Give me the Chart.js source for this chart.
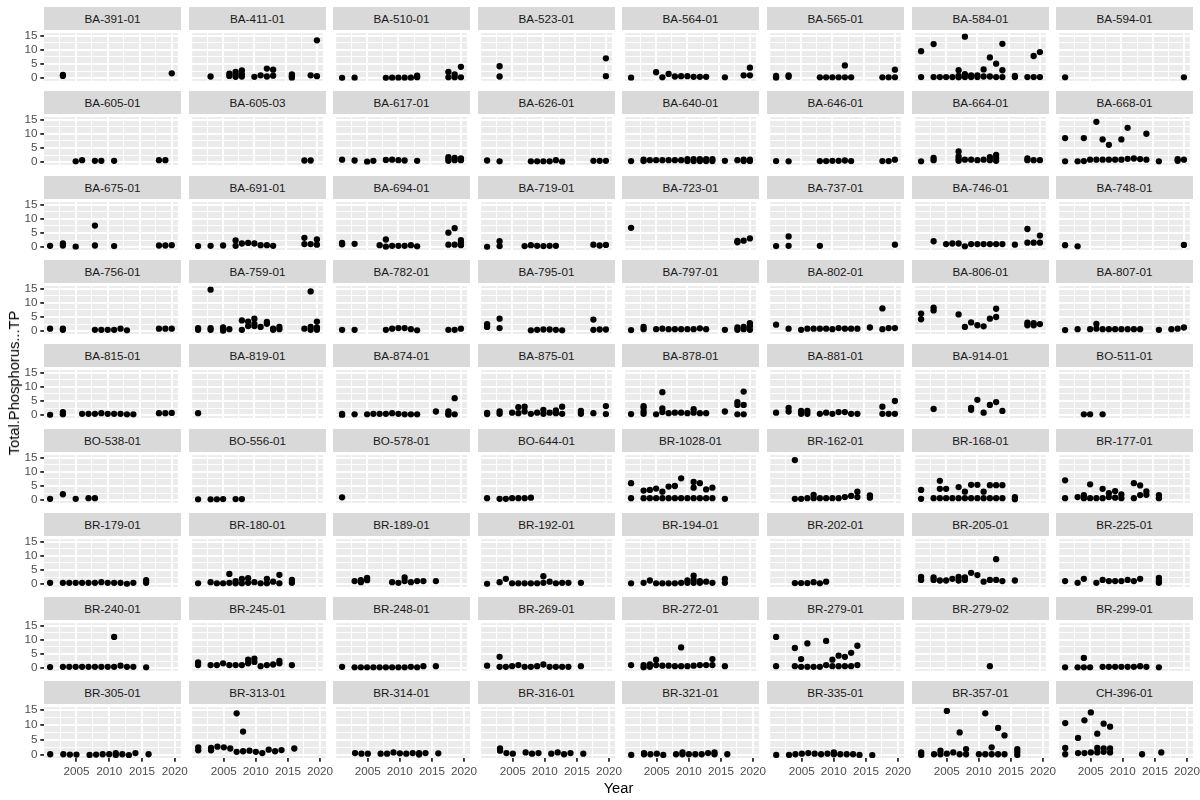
<!DOCTYPE html>
<html>
<head>
<meta charset="utf-8">
<script src="https://cdn.jsdelivr.net/npm/chart.js@4.4.0/dist/chart.umd.min.js"></script>
<style>
html,body{margin:0;padding:0;background:#fff;width:1200px;height:800px;overflow:hidden;font-family:'Liberation Sans',Arial,Helvetica,sans-serif;}
#wrap{position:relative;width:1200px;height:800px;}
#wrap canvas{position:absolute;}
.strip{position:absolute;background:#D9D9D9;color:#1A1A1A;font-size:11.7px;display:flex;align-items:center;justify-content:center;white-space:nowrap;}
.title{position:absolute;color:#000;font-size:14.7px;white-space:nowrap;}
</style>
</head>
<body>
<div id="wrap"></div>
<script>
// ---- Data: [year, Total Phosphorus TP] per site ----
const BA_391_01=[[2003,0.8],[2003,1.2],[2020,1.7]];
const BA_411_01=[[2003,0.6],[2006,1.6],[2006,0.8],[2007,2.2],[2007,1.3],[2007,0.5],[2008,2.7],[2008,1.3],[2008,0.6],[2010,0.5],[2011,1.0],[2012,3.4],[2012,0.6],[2013,3.0],[2013,0.9],[2016,1.3],[2016,0.7],[2016,0.2],[2019,1.0],[2020,13.3],[2020,0.7]];
const BA_510_01=[[2001,0.1],[2003,0.2],[2008,0.1],[2009,0.2],[2010,0.2],[2011,0.2],[2012,0.2],[2013,0.3],[2013,0.9],[2018,2.2],[2018,0.3],[2019,1.3],[2019,0.3],[2020,4.0],[2020,0.3]];
const BA_523_01=[[2003,4.2],[2003,0.6],[2020,7.0],[2020,0.7]];
const BA_564_01=[[2001,0.2],[2005,2.1],[2006,0.3],[2007,1.5],[2008,0.6],[2009,0.7],[2010,0.7],[2011,0.5],[2012,0.5],[2013,0.5],[2016,0.3],[2019,1.0],[2020,3.7],[2020,1.0]];
const BA_565_01=[[2001,0.8],[2001,0.2],[2003,1.0],[2003,0.5],[2008,0.3],[2009,0.3],[2010,0.3],[2011,0.3],[2012,4.5],[2012,0.3],[2013,0.3],[2018,0.3],[2019,0.3],[2020,3.0],[2020,0.3]];
const BA_584_01=[[2001,9.5],[2001,0.4],[2003,12.0],[2003,0.4],[2004,0.4],[2005,0.4],[2006,0.4],[2007,2.8],[2007,0.8],[2007,0.3],[2008,14.6],[2008,1.4],[2008,0.4],[2009,1.0],[2009,0.4],[2010,1.0],[2010,0.4],[2011,3.1],[2011,0.6],[2012,7.3],[2012,0.6],[2013,5.1],[2013,0.4],[2014,12.1],[2014,2.8],[2014,0.4],[2016,0.8],[2016,0.4],[2018,0.4],[2019,7.8],[2019,0.4],[2020,9.2],[2020,0.4]];
const BA_594_01=[[2001,0.3],[2020,0.3]];
const BA_605_01=[[2005,0.3],[2006,0.7],[2008,0.5],[2009,0.5],[2011,0.5],[2018,0.7],[2019,0.7]];
const BA_605_03=[[2018,0.6],[2019,0.6]];
const BA_617_01=[[2001,0.9],[2003,0.6],[2005,0.2],[2006,0.5],[2008,0.8],[2009,0.9],[2010,0.7],[2011,0.6],[2013,0.5],[2018,1.8],[2018,1.1],[2018,0.5],[2019,1.5],[2019,0.7],[2020,1.3],[2020,0.7]];
const BA_626_01=[[2001,0.6],[2003,0.3],[2008,0.3],[2009,0.3],[2010,0.3],[2011,0.3],[2012,0.7],[2013,0.2],[2018,0.5],[2019,0.5],[2020,0.5]];
const BA_640_01=[[2001,0.4],[2003,0.9],[2003,0.4],[2004,0.7],[2005,0.7],[2006,0.7],[2007,0.7],[2008,0.7],[2009,0.7],[2010,1.1],[2010,0.4],[2011,1.1],[2011,0.4],[2012,1.1],[2012,0.4],[2013,1.1],[2013,0.4],[2014,1.1],[2014,0.4],[2016,0.5],[2018,0.7],[2019,0.9],[2019,0.4],[2020,0.9],[2020,0.4]];
const BA_646_01=[[2001,0.4],[2003,0.3],[2008,0.4],[2009,0.4],[2010,0.5],[2011,0.5],[2012,0.6],[2013,0.4],[2018,0.4],[2019,0.4],[2020,0.9]];
const BA_664_01=[[2001,0.3],[2003,1.5],[2003,0.7],[2007,3.8],[2007,2.0],[2007,1.1],[2007,0.5],[2008,0.9],[2009,0.9],[2010,0.7],[2011,0.9],[2012,1.8],[2012,0.7],[2013,2.6],[2013,1.5],[2013,0.5],[2018,1.3],[2018,0.7],[2019,0.7],[2020,0.7]];
const BA_668_01=[[2001,8.5],[2001,0.3],[2003,0.3],[2004,8.5],[2004,0.4],[2005,0.9],[2006,14.2],[2006,0.9],[2007,8.0],[2007,0.9],[2008,6.1],[2008,0.9],[2009,0.9],[2010,8.0],[2010,0.9],[2011,12.1],[2011,1.2],[2012,1.3],[2013,1.1],[2014,10.0],[2014,0.9],[2016,0.3],[2019,1.1],[2019,0.5],[2020,0.9]];
const BA_675_01=[[2001,0.5],[2003,1.3],[2003,0.6],[2005,0.2],[2008,7.6],[2008,0.6],[2011,0.4],[2018,0.6],[2019,0.6],[2020,0.7]];
const BA_691_01=[[2001,0.4],[2003,0.5],[2005,0.6],[2007,2.4],[2007,0.5],[2008,1.3],[2009,1.5],[2010,1.3],[2011,0.7],[2012,0.7],[2013,0.5],[2018,3.3],[2018,1.1],[2019,1.1],[2020,2.7],[2020,0.9]];
const BA_694_01=[[2001,1.5],[2001,1.0],[2003,1.2],[2007,0.7],[2008,2.7],[2008,0.2],[2009,0.5],[2010,0.5],[2011,0.5],[2012,0.7],[2013,0.3],[2018,5.1],[2018,0.9],[2019,6.7],[2019,0.9],[2020,2.5],[2020,1.5],[2020,0.7]];
const BA_719_01=[[2001,0.1],[2003,2.1],[2003,0.4],[2007,0.4],[2008,0.7],[2009,0.5],[2010,0.4],[2011,0.5],[2012,0.5],[2018,0.9],[2019,0.6],[2020,0.8]];
const BA_723_01=[[2001,6.8],[2018,1.7],[2018,2.2],[2019,2.3],[2020,3.1]];
const BA_737_01=[[2001,0.4],[2003,3.8],[2003,0.5],[2008,0.5],[2020,0.9]];
const BA_746_01=[[2003,2.1],[2005,1.1],[2006,1.3],[2007,1.3],[2008,0.3],[2009,1.1],[2010,1.1],[2011,1.1],[2012,1.1],[2013,1.1],[2014,1.1],[2016,0.9],[2018,6.4],[2018,1.6],[2019,1.6],[2020,4.1],[2020,1.6]];
const BA_748_01=[[2001,0.7],[2003,0.3],[2020,0.8]];
const BA_756_01=[[2001,0.9],[2003,0.9],[2003,0.5],[2008,0.5],[2009,0.5],[2010,0.5],[2011,0.5],[2012,0.9],[2013,0.3],[2018,0.9],[2019,0.9],[2020,0.9]];
const BA_759_01=[[2001,1.1],[2001,0.5],[2003,14.6],[2003,1.1],[2003,0.5],[2005,1.3],[2005,0.7],[2005,0.1],[2006,0.7],[2008,3.8],[2008,0.5],[2009,3.4],[2009,1.8],[2010,4.4],[2010,2.6],[2010,1.8],[2011,1.5],[2012,3.3],[2012,2.6],[2013,0.9],[2013,0.5],[2014,1.5],[2014,0.7],[2018,0.9],[2019,14.0],[2019,1.5],[2019,0.5],[2020,3.4],[2020,1.3],[2020,0.5]];
const BA_782_01=[[2001,0.5],[2003,0.5],[2008,0.5],[2009,0.9],[2010,1.1],[2011,1.1],[2012,0.7],[2013,0.3],[2018,0.5],[2019,0.5],[2020,0.9]];
const BA_795_01=[[2001,2.5],[2001,1.5],[2003,4.4],[2003,1.1],[2008,0.3],[2009,0.5],[2010,0.6],[2011,0.6],[2012,0.5],[2013,0.3],[2018,4.1],[2018,0.5],[2019,0.6],[2020,0.6]];
const BA_797_01=[[2001,0.4],[2003,1.5],[2003,0.7],[2005,0.7],[2006,0.9],[2007,0.7],[2008,0.7],[2009,0.7],[2010,0.7],[2011,0.7],[2012,1.0],[2013,0.7],[2016,0.5],[2018,1.3],[2018,0.5],[2019,1.5],[2019,0.7],[2020,2.8],[2020,1.8],[2020,0.5]];
const BA_802_01=[[2001,2.3],[2003,0.9],[2005,0.5],[2006,0.9],[2007,0.9],[2008,0.9],[2009,0.9],[2010,0.7],[2011,1.1],[2012,0.9],[2013,0.9],[2014,0.9],[2016,1.3],[2018,8.0],[2018,0.7],[2019,1.1],[2020,1.1]];
const BA_806_01=[[2001,6.2],[2001,4.2],[2003,8.3],[2003,7.3],[2007,5.9],[2008,1.5],[2009,3.1],[2010,2.1],[2011,1.7],[2012,4.4],[2013,7.9],[2013,5.0],[2018,3.0],[2018,2.1],[2019,2.8],[2019,2.1],[2020,2.5]];
const BA_807_01=[[2001,0.4],[2003,0.7],[2005,0.7],[2006,2.6],[2006,0.9],[2007,0.7],[2008,0.7],[2009,0.7],[2010,0.7],[2011,0.7],[2012,0.7],[2013,0.7],[2016,0.5],[2018,0.7],[2019,0.9],[2020,1.3]];
const BA_815_01=[[2001,0.1],[2003,1.1],[2003,0.3],[2006,0.5],[2007,0.5],[2008,0.5],[2009,0.7],[2010,0.5],[2011,0.5],[2012,0.5],[2013,0.3],[2014,0.3],[2018,0.7],[2019,0.7],[2020,0.8]];
const BA_819_01=[[2001,0.7]];
const BA_874_01=[[2001,0.5],[2001,0.0],[2003,0.3],[2005,0.3],[2006,0.5],[2007,0.5],[2008,0.5],[2009,0.7],[2010,0.5],[2011,0.3],[2012,0.3],[2013,0.3],[2016,1.3],[2018,1.3],[2018,0.5],[2018,0.1],[2019,6.0],[2019,0.3]];
const BA_875_01=[[2001,0.8],[2001,0.4],[2003,1.3],[2003,0.5],[2005,0.9],[2006,2.8],[2006,0.7],[2007,3.0],[2007,1.3],[2008,0.5],[2009,0.9],[2010,1.9],[2010,0.5],[2011,0.9],[2012,1.7],[2012,0.7],[2013,3.0],[2013,0.5],[2016,1.5],[2016,0.5],[2018,0.7],[2020,3.2],[2020,0.4]];
const BA_878_01=[[2001,0.4],[2003,3.2],[2003,2.6],[2003,1.3],[2003,0.5],[2005,0.3],[2006,8.1],[2006,2.4],[2006,1.1],[2007,0.7],[2008,0.9],[2009,0.9],[2010,0.7],[2011,2.1],[2011,0.9],[2012,0.7],[2013,0.7],[2016,1.3],[2018,4.6],[2018,3.6],[2018,0.3],[2019,8.3],[2019,3.6],[2019,0.3]];
const BA_881_01=[[2001,0.9],[2003,2.6],[2003,1.3],[2005,1.5],[2005,0.5],[2006,1.5],[2006,0.5],[2008,0.5],[2009,0.9],[2010,0.5],[2011,1.1],[2012,1.1],[2013,0.5],[2014,0.5],[2018,3.0],[2018,0.5],[2019,0.5],[2020,5.0],[2020,0.5]];
const BA_914_01=[[2003,2.2],[2009,2.6],[2009,1.9],[2010,5.4],[2011,0.9],[2012,3.6],[2013,4.6],[2014,1.5]];
const BO_511_01=[[2004,0.3],[2005,0.3],[2007,0.3]];
const BO_538_01=[[2001,0.5],[2003,2.1],[2005,0.5],[2007,0.7],[2008,0.7]];
const BO_556_01=[[2001,0.3],[2003,0.3],[2004,0.3],[2005,0.4],[2007,0.4],[2008,0.4]];
const BO_578_01=[[2001,1.0]];
const BO_644_01=[[2001,0.7],[2003,0.5],[2004,0.5],[2005,0.7],[2006,0.7],[2007,0.7],[2008,0.9]];
const BR_1028_01=[[2001,6.0],[2001,0.7],[2003,3.4],[2003,0.7],[2004,3.6],[2004,0.7],[2005,4.1],[2005,0.7],[2006,3.0],[2006,0.7],[2007,4.8],[2007,0.7],[2008,5.0],[2008,0.7],[2009,7.7],[2009,0.7],[2010,0.7],[2011,6.4],[2011,4.4],[2011,0.7],[2012,6.0],[2012,0.7],[2013,3.8],[2013,0.7],[2014,4.4],[2014,0.7],[2016,0.5]];
const BR_162_01=[[2004,14.1],[2004,0.5],[2005,0.5],[2006,0.7],[2007,1.9],[2007,0.7],[2008,0.7],[2009,0.7],[2010,0.7],[2011,0.7],[2012,1.1],[2013,1.5],[2014,3.0],[2014,1.1],[2016,1.7],[2016,0.9]];
const BR_168_01=[[2001,3.6],[2001,0.5],[2003,0.7],[2004,6.8],[2004,4.0],[2004,0.7],[2005,4.0],[2005,0.7],[2006,0.7],[2007,4.6],[2007,0.7],[2008,3.0],[2008,0.7],[2009,5.4],[2009,0.7],[2010,5.4],[2010,0.7],[2011,3.0],[2011,0.7],[2012,5.3],[2012,0.7],[2013,5.3],[2013,0.7],[2014,5.3],[2014,0.7],[2016,1.1],[2016,0.3]];
const BR_177_01=[[2001,7.0],[2001,0.7],[2003,1.1],[2004,1.8],[2004,0.7],[2005,5.6],[2005,0.7],[2006,0.7],[2007,4.0],[2007,0.7],[2008,2.5],[2008,1.1],[2009,3.2],[2009,0.9],[2010,2.0],[2010,0.7],[2012,6.0],[2012,0.7],[2013,5.2],[2013,1.8],[2014,3.1],[2014,1.9],[2016,1.8],[2016,0.7]];
const BR_179_01=[[2001,0.5],[2003,0.5],[2004,0.5],[2005,0.5],[2006,0.5],[2007,0.5],[2008,0.5],[2009,0.7],[2010,0.5],[2011,0.5],[2012,0.5],[2013,0.1],[2014,0.5],[2016,1.4],[2016,0.5]];
const BR_180_01=[[2001,0.3],[2003,0.7],[2004,0.3],[2005,0.3],[2006,3.6],[2006,0.5],[2007,1.1],[2007,0.3],[2008,1.9],[2008,0.3],[2009,2.1],[2009,0.5],[2010,0.7],[2011,0.3],[2012,1.9],[2012,0.3],[2013,0.9],[2014,3.3],[2014,0.3],[2016,1.5],[2016,0.5]];
const BR_189_01=[[2003,1.1],[2004,1.4],[2004,0.7],[2005,2.2],[2005,1.4],[2009,0.7],[2010,0.5],[2011,2.4],[2011,1.1],[2012,0.7],[2013,1.1],[2014,1.1],[2016,1.1]];
const BR_192_01=[[2001,0.1],[2003,0.7],[2004,1.9],[2005,0.3],[2006,0.3],[2007,0.3],[2008,0.3],[2009,0.3],[2010,2.8],[2010,0.5],[2011,0.9],[2012,0.3],[2013,0.5],[2014,0.5],[2016,0.5]];
const BR_194_01=[[2001,0.3],[2003,0.5],[2004,1.3],[2005,0.3],[2006,0.3],[2007,0.3],[2008,0.3],[2009,0.5],[2010,1.3],[2010,0.5],[2011,3.0],[2011,1.5],[2011,0.5],[2012,1.1],[2012,0.5],[2013,0.9],[2014,0.5],[2016,1.9],[2016,0.5]];
const BR_202_01=[[2004,0.4],[2005,0.4],[2006,0.4],[2007,0.7],[2008,0.3],[2009,0.9]];
const BR_205_01=[[2001,2.6],[2001,1.5],[2003,2.4],[2003,1.5],[2004,1.3],[2005,1.3],[2006,1.9],[2007,2.6],[2007,1.3],[2008,2.4],[2008,1.5],[2009,4.0],[2010,3.2],[2011,0.9],[2012,1.5],[2013,8.8],[2013,1.5],[2014,1.1],[2016,1.3]];
const BR_225_01=[[2001,1.1],[2003,0.5],[2004,1.9],[2006,0.5],[2007,1.5],[2008,1.1],[2009,1.1],[2010,1.1],[2011,1.5],[2012,1.1],[2013,1.9],[2016,2.2],[2016,1.1],[2016,0.5]];
const BR_240_01=[[2001,0.4],[2003,0.5],[2004,0.5],[2005,0.5],[2006,0.5],[2007,0.5],[2008,0.5],[2009,0.5],[2010,0.5],[2011,11.0],[2011,0.5],[2012,0.9],[2013,0.5],[2014,0.5],[2016,0.3]];
const BR_245_01=[[2001,2.0],[2001,1.1],[2003,1.1],[2004,1.1],[2005,1.7],[2006,1.1],[2007,1.1],[2008,1.1],[2009,3.0],[2009,1.7],[2010,3.4],[2010,2.2],[2011,0.7],[2012,1.1],[2013,1.3],[2014,2.6],[2014,1.7],[2016,1.1]];
const BR_248_01=[[2001,0.5],[2003,0.3],[2004,0.3],[2005,0.3],[2006,0.3],[2007,0.3],[2008,0.3],[2009,0.3],[2010,0.3],[2011,0.3],[2012,0.5],[2013,0.3],[2014,0.7],[2016,0.7]];
const BR_269_01=[[2001,0.9],[2003,4.0],[2003,0.5],[2004,0.5],[2005,0.7],[2006,1.1],[2007,0.5],[2008,0.5],[2009,0.7],[2010,1.3],[2011,0.5],[2012,0.5],[2013,0.5],[2014,0.5],[2016,0.7]];
const BR_272_01=[[2001,1.1],[2003,1.1],[2003,0.3],[2004,1.3],[2004,0.5],[2005,3.0],[2005,1.1],[2006,0.9],[2007,0.9],[2008,0.7],[2009,7.3],[2009,0.7],[2010,0.7],[2011,0.9],[2012,1.1],[2013,1.1],[2014,3.2],[2014,1.1],[2016,0.7]];
const BR_279_01=[[2001,11.0],[2001,0.7],[2004,7.1],[2004,0.7],[2005,3.2],[2005,0.5],[2006,8.7],[2006,0.5],[2007,0.5],[2008,0.5],[2009,9.6],[2009,1.1],[2010,3.0],[2010,0.7],[2011,4.4],[2011,0.7],[2012,4.0],[2012,0.7],[2013,5.4],[2013,0.7],[2014,7.9],[2014,1.1]];
const BR_279_02=[[2012,0.7]];
const BR_299_01=[[2001,0.3],[2003,0.3],[2004,3.6],[2004,0.3],[2005,0.3],[2007,0.5],[2008,0.5],[2009,0.5],[2010,0.5],[2011,0.5],[2012,0.5],[2013,0.7],[2014,0.5],[2016,0.3]];
const BR_305_01=[[2001,0.3],[2003,0.3],[2004,0.2],[2005,0.2],[2007,0.1],[2008,0.2],[2009,0.3],[2010,0.3],[2011,0.7],[2011,0.1],[2012,0.3],[2013,0.0],[2014,0.7],[2016,0.3]];
const BR_313_01=[[2001,2.6],[2001,1.6],[2003,2.4],[2003,1.6],[2004,2.8],[2005,2.6],[2006,2.2],[2007,13.8],[2007,1.1],[2008,7.8],[2008,1.3],[2009,1.5],[2010,1.1],[2011,0.7],[2012,1.8],[2013,1.3],[2014,1.7],[2016,2.2]];
const BR_314_01=[[2003,0.7],[2004,0.5],[2005,0.5],[2007,0.5],[2008,0.5],[2009,0.9],[2010,0.6],[2011,0.5],[2012,0.7],[2013,0.7],[2013,0.2],[2014,0.7],[2016,0.6]];
const BR_316_01=[[2003,2.2],[2003,1.5],[2004,0.7],[2005,0.5],[2007,0.9],[2008,0.5],[2009,0.7],[2011,0.5],[2012,0.9],[2013,0.3],[2014,0.7],[2016,0.5]];
const BR_321_01=[[2001,0.1],[2003,0.7],[2003,0.3],[2004,0.3],[2005,0.5],[2006,0.1],[2008,0.3],[2009,0.9],[2009,0.3],[2010,0.3],[2011,0.3],[2012,0.3],[2013,0.7],[2014,0.9],[2014,0.3],[2016,0.3]];
const BR_335_01=[[2001,0.1],[2003,0.1],[2004,0.3],[2005,0.5],[2006,0.7],[2007,0.5],[2008,0.3],[2009,0.5],[2010,0.9],[2010,0.3],[2011,0.3],[2012,0.3],[2013,0.3],[2014,0.1],[2016,0.0]];
const BR_357_01=[[2001,0.9],[2001,0.1],[2003,0.3],[2004,1.5],[2004,0.3],[2005,14.6],[2005,0.5],[2006,0.9],[2007,7.5],[2007,0.3],[2008,2.0],[2008,0.3],[2010,0.3],[2011,13.8],[2011,0.3],[2012,2.6],[2012,0.3],[2013,9.0],[2013,0.3],[2014,6.5],[2014,0.3],[2016,2.0],[2016,1.1],[2016,0.1]];
const CH_396_01=[[2001,10.6],[2001,2.4],[2001,0.3],[2003,5.7],[2003,0.7],[2004,11.5],[2004,0.7],[2005,14.1],[2005,0.9],[2006,7.1],[2006,2.4],[2006,0.9],[2007,10.4],[2007,2.2],[2007,1.1],[2008,9.4],[2008,2.2],[2008,0.9],[2013,0.3],[2016,0.9]];

const siteNames=['BA-391-01','BA-411-01','BA-510-01','BA-523-01','BA-564-01','BA-565-01','BA-584-01','BA-594-01',
'BA-605-01','BA-605-03','BA-617-01','BA-626-01','BA-640-01','BA-646-01','BA-664-01','BA-668-01',
'BA-675-01','BA-691-01','BA-694-01','BA-719-01','BA-723-01','BA-737-01','BA-746-01','BA-748-01',
'BA-756-01','BA-759-01','BA-782-01','BA-795-01','BA-797-01','BA-802-01','BA-806-01','BA-807-01',
'BA-815-01','BA-819-01','BA-874-01','BA-875-01','BA-878-01','BA-881-01','BA-914-01','BO-511-01',
'BO-538-01','BO-556-01','BO-578-01','BO-644-01','BR-1028-01','BR-162-01','BR-168-01','BR-177-01',
'BR-179-01','BR-180-01','BR-189-01','BR-192-01','BR-194-01','BR-202-01','BR-205-01','BR-225-01',
'BR-240-01','BR-245-01','BR-248-01','BR-269-01','BR-272-01','BR-279-01','BR-279-02','BR-299-01',
'BR-305-01','BR-313-01','BR-314-01','BR-316-01','BR-321-01','BR-335-01','BR-357-01','CH-396-01'];
const siteSeries=[BA_391_01,BA_411_01,BA_510_01,BA_523_01,BA_564_01,BA_565_01,BA_584_01,BA_594_01,
BA_605_01,BA_605_03,BA_617_01,BA_626_01,BA_640_01,BA_646_01,BA_664_01,BA_668_01,
BA_675_01,BA_691_01,BA_694_01,BA_719_01,BA_723_01,BA_737_01,BA_746_01,BA_748_01,
BA_756_01,BA_759_01,BA_782_01,BA_795_01,BA_797_01,BA_802_01,BA_806_01,BA_807_01,
BA_815_01,BA_819_01,BA_874_01,BA_875_01,BA_878_01,BA_881_01,BA_914_01,BO_511_01,
BO_538_01,BO_556_01,BO_578_01,BO_644_01,BR_1028_01,BR_162_01,BR_168_01,BR_177_01,
BR_179_01,BR_180_01,BR_189_01,BR_192_01,BR_194_01,BR_202_01,BR_205_01,BR_225_01,
BR_240_01,BR_245_01,BR_248_01,BR_269_01,BR_272_01,BR_279_01,BR_279_02,BR_299_01,
BR_305_01,BR_313_01,BR_314_01,BR_316_01,BR_321_01,BR_335_01,BR_357_01,CH_396_01];

// tick values (major every 5, minor gridlines halfway)
const xTickValues=[2002.5,2005,2007.5,2010,2012.5,2015,2017.5,2020];
const yTickValues=[0,2.5,5,7.5,10,12.5,15];
const xRange=[2000.05,2020.95];
const yRange=[-0.93,15.84];
const xTitle='Year';
const yTitle='Total.Phosphorus...TP';

// ---- layout ----
const NCOL=8;
const L0=44, PW=137, GAPX=7.6, T0=30, PH=54, PITCH_Y=84.3, STRIP_H=22.7;
const AXIS_W=44, AXIS_H=28, PAD_R=16;
const FONT="'Liberation Sans', Arial, Helvetica, sans-serif";

const wrap=document.getElementById('wrap');
const isMajor=v=>Math.abs(v%5)<1e-9;

const bgPlugin={id:'panelBg',beforeDraw(chart){const a=chart.chartArea,ctx=chart.ctx;ctx.save();ctx.fillStyle='#EBEBEB';ctx.fillRect(a.left,a.top,a.right-a.left,a.bottom-a.top);ctx.restore();}};

const nRows=Math.ceil(siteNames.length/NCOL);
siteNames.forEach((name,i)=>{
  const r=Math.floor(i/NCOL), c=i%NCOL;
  const px=Math.round(L0+c*(PW+GAPX)), py=Math.round(T0+r*PITCH_Y);
  const strip=document.createElement('div');
  strip.className='strip';
  strip.style.left=px+'px'; strip.style.top=(py-STRIP_H)+'px';
  strip.style.width=PW+'px'; strip.style.height=STRIP_H+'px';
  strip.textContent=name;
  wrap.appendChild(strip);

  const isLeft=c===0, isBottom=r===nRows-1;
  const yw=isLeft?AXIS_W:0, xh=isBottom?AXIS_H:0, pr=isBottom?PAD_R:0;
  const cv=document.createElement('canvas');
  const cw=PW+yw+pr, ch=PH+xh;
  cv.width=cw; cv.height=ch;
  cv.style.left=(px-yw)+'px'; cv.style.top=py+'px';
  cv.style.width=cw+'px'; cv.style.height=ch+'px';
  wrap.appendChild(cv);

  const gridCommon=(showTicks)=>({
    color:'#FFFFFF',
    lineWidth:ctx=>(ctx.tick&&isMajor(ctx.tick.value))?1.9:0.95,
    drawTicks:showTicks,
    tickLength:3.7,
    tickWidth:1.9,
    tickColor:ctx=>(ctx.tick&&isMajor(ctx.tick.value))?'#333333':'rgba(0,0,0,0)'
  });
  const tickFont={family:FONT,size:11.7};

  new Chart(cv,{
    type:'scatter',
    data:{datasets:[{
      data:siteSeries[i].map(p=>({x:p[0],y:p[1]})),
      pointRadius:3.15,pointHoverRadius:3.15,pointBorderWidth:0,
      backgroundColor:'#000000',borderColor:'#000000'
    }]},
    options:{
      responsive:false,animation:false,devicePixelRatio:1,events:[],
      layout:{padding:{left:0,right:pr,top:0,bottom:0}},
      plugins:{legend:{display:false},tooltip:{enabled:false},title:{display:false}},
      scales:{
        x:{type:'linear',position:'bottom',min:xRange[0],max:xRange[1],
          afterBuildTicks:s=>{s.ticks=xTickValues.map(v=>({value:v}));},
          afterFit:s=>{s.height=xh;s.paddingLeft=0;s.paddingRight=0;},
          ticks:{display:isBottom,autoSkip:false,maxRotation:0,minRotation:0,padding:2.6,color:'#4D4D4D',font:tickFont,
            callback:v=>isMajor(v)?String(v):''},
          grid:gridCommon(isBottom),
          border:{display:false}
        },
        y:{type:'linear',position:'left',min:yRange[0],max:yRange[1],
          afterBuildTicks:s=>{s.ticks=yTickValues.map(v=>({value:v}));},
          afterFit:s=>{s.width=yw;s.paddingTop=0;s.paddingBottom=0;},
          ticks:{display:isLeft,autoSkip:false,padding:2.9,color:'#4D4D4D',font:tickFont,
            callback:v=>isMajor(v)?String(v):''},
          grid:gridCommon(isLeft),
          border:{display:false}
        }
      }
    },
    plugins:[bgPlugin]
  });
});

// axis titles
const plotBottom=Math.round(T0+(nRows-1)*PITCH_Y)+PH;
const lastRight=Math.round(L0+(NCOL-1)*(PW+GAPX))+PW;
const xt=document.createElement('div');
xt.className='title'; xt.textContent=xTitle;
xt.style.left=((L0+lastRight)/2)+'px'; xt.style.top='788px';
xt.style.transform='translate(-50%,-50%)';
wrap.appendChild(xt);
const yt=document.createElement('div');
yt.className='title'; yt.textContent=yTitle;
yt.style.left='14px'; yt.style.top=((T0-STRIP_H+plotBottom)/2)+'px';
yt.style.transform='translate(-50%,-50%) rotate(-90deg)';
wrap.appendChild(yt);
</script>
</body>
</html>
